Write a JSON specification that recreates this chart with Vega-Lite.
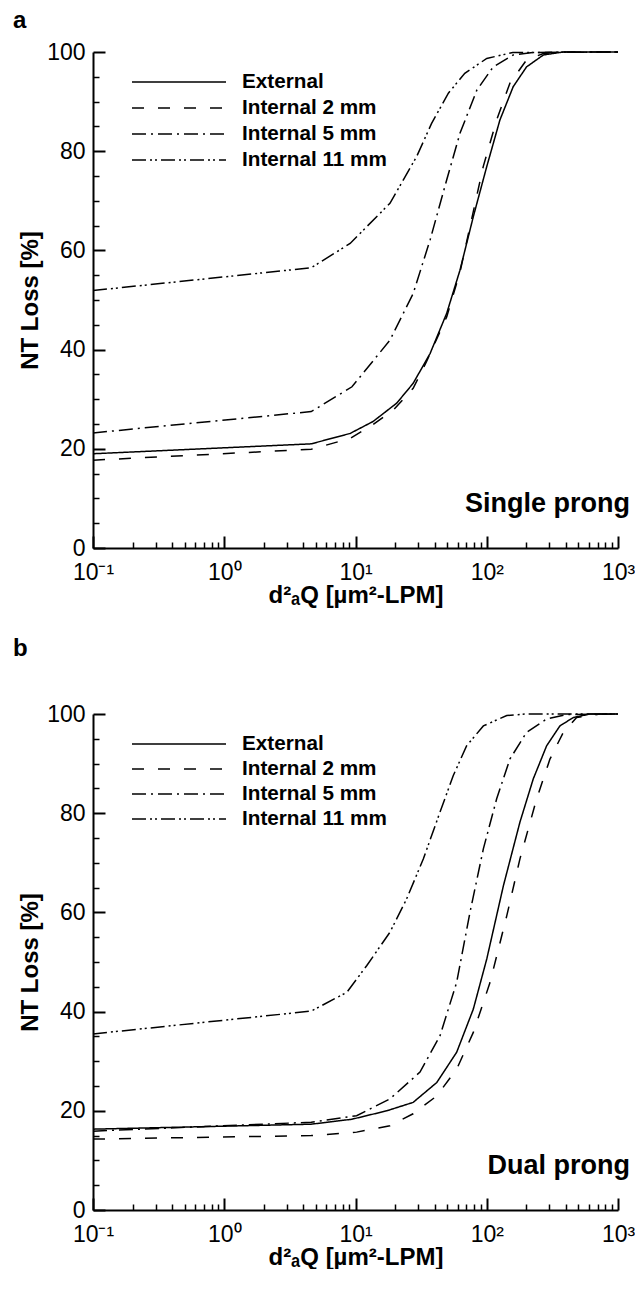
{
  "$schema": "https://vega.github.io/schema/vega-lite/v6.json",
  "padding": {"left": 13, "top": 9, "right": 0, "bottom": 0},
  "spacing": 30,
  "config": {
    "font": "Liberation Sans",
    "view": {"stroke": null},
    "axis": {
      "grid": false,
      "domainColor": "black",
      "domainWidth": 2,
      "tickColor": "black",
      "labelColor": "black",
      "labelFontSize": 23,
      "labelFont": "Liberation Sans",
      "titleFont": "Liberation Sans",
      "titleFontSize": 24,
      "titleFontWeight": "bold",
      "titleColor": "black",
      "labelOverlap": false,
      "labelFlush": false,
      "labelBound": false
    },
    "legend": {
      "labelFont": "Liberation Sans",
      "labelFontSize": 20.7,
      "labelFontWeight": "bold",
      "labelColor": "black"
    },
    "title": {"font": "Liberation Sans", "color": "black"}
  },
  "datasets": {
    "a": [
      {"s": "External", "x": 0.1, "y": 19.0}, {"s": "External", "x": 4.6, "y": 21.0}, {"s": "External", "x": 9.1, "y": 23.1}, {"s": "External", "x": 13.6, "y": 25.5}, {"s": "External", "x": 20.6, "y": 29.2}, {"s": "External", "x": 27.5, "y": 33.2}, {"s": "External", "x": 37, "y": 39.2}, {"s": "External", "x": 49.5, "y": 47.3}, {"s": "External", "x": 62.5, "y": 56.0}, {"s": "External", "x": 79, "y": 66.8}, {"s": "External", "x": 100, "y": 76.9}, {"s": "External", "x": 126, "y": 86.3}, {"s": "External", "x": 159, "y": 93.0}, {"s": "External", "x": 201, "y": 97.0}, {"s": "External", "x": 270, "y": 99.4}, {"s": "External", "x": 380, "y": 100}, {"s": "External", "x": 1000, "y": 100},
      {"s": "Internal 2 mm", "x": 0.1, "y": 17.7}, {"s": "Internal 2 mm", "x": 4.6, "y": 19.9}, {"s": "Internal 2 mm", "x": 9.1, "y": 22.1}, {"s": "Internal 2 mm", "x": 13.6, "y": 24.9}, {"s": "Internal 2 mm", "x": 19.4, "y": 27.8}, {"s": "Internal 2 mm", "x": 27.5, "y": 32.2}, {"s": "Internal 2 mm", "x": 34.8, "y": 37.6}, {"s": "Internal 2 mm", "x": 49.5, "y": 46.6}, {"s": "Internal 2 mm", "x": 62.5, "y": 55.6}, {"s": "Internal 2 mm", "x": 77, "y": 66.5}, {"s": "Internal 2 mm", "x": 94, "y": 76.9}, {"s": "Internal 2 mm", "x": 119, "y": 86.3}, {"s": "Internal 2 mm", "x": 150, "y": 93.7}, {"s": "Internal 2 mm", "x": 201, "y": 98.4}, {"s": "Internal 2 mm", "x": 270, "y": 99.7}, {"s": "Internal 2 mm", "x": 380, "y": 100}, {"s": "Internal 2 mm", "x": 1000, "y": 100},
      {"s": "Internal 5 mm", "x": 0.1, "y": 23.2}, {"s": "Internal 5 mm", "x": 4.6, "y": 27.5}, {"s": "Internal 5 mm", "x": 9.4, "y": 32.5}, {"s": "Internal 5 mm", "x": 18.3, "y": 41.9}, {"s": "Internal 5 mm", "x": 27.5, "y": 51.3}, {"s": "Internal 5 mm", "x": 37, "y": 62.1}, {"s": "Internal 5 mm", "x": 49.5, "y": 74.2}, {"s": "Internal 5 mm", "x": 62.5, "y": 83.6}, {"s": "Internal 5 mm", "x": 84, "y": 92.3}, {"s": "Internal 5 mm", "x": 112, "y": 97.0}, {"s": "Internal 5 mm", "x": 159, "y": 99.4}, {"s": "Internal 5 mm", "x": 224, "y": 99.9}, {"s": "Internal 5 mm", "x": 1000, "y": 100},
      {"s": "Internal 11 mm", "x": 0.1, "y": 51.9}, {"s": "Internal 11 mm", "x": 4.6, "y": 56.5}, {"s": "Internal 11 mm", "x": 9.1, "y": 61.4}, {"s": "Internal 11 mm", "x": 18.3, "y": 69.5}, {"s": "Internal 11 mm", "x": 29.2, "y": 78.9}, {"s": "Internal 11 mm", "x": 38, "y": 85.6}, {"s": "Internal 11 mm", "x": 51, "y": 91.7}, {"s": "Internal 11 mm", "x": 68, "y": 95.7}, {"s": "Internal 11 mm", "x": 100, "y": 98.7}, {"s": "Internal 11 mm", "x": 158, "y": 99.9}, {"s": "Internal 11 mm", "x": 1000, "y": 100}
    ],
    "b": [
      {"s": "External", "x": 0.1, "y": 16.3}, {"s": "External", "x": 4.6, "y": 17.3}, {"s": "External", "x": 9.4, "y": 18.3}, {"s": "External", "x": 17.3, "y": 20.0}, {"s": "External", "x": 27.5, "y": 21.7}, {"s": "External", "x": 41.6, "y": 25.7}, {"s": "External", "x": 59, "y": 31.8}, {"s": "External", "x": 79, "y": 40.5}, {"s": "External", "x": 100, "y": 50.6}, {"s": "External", "x": 134, "y": 65.4}, {"s": "External", "x": 179, "y": 78.2}, {"s": "External", "x": 226, "y": 86.9}, {"s": "External", "x": 286, "y": 93.6}, {"s": "External", "x": 361, "y": 97.6}, {"s": "External", "x": 457, "y": 99.3}, {"s": "External", "x": 612, "y": 100}, {"s": "External", "x": 1000, "y": 100},
      {"s": "Internal 2 mm", "x": 0.1, "y": 14.3}, {"s": "Internal 2 mm", "x": 4.6, "y": 15.0}, {"s": "Internal 2 mm", "x": 10.2, "y": 15.7}, {"s": "Internal 2 mm", "x": 18.3, "y": 17.0}, {"s": "Internal 2 mm", "x": 27.5, "y": 19.4}, {"s": "Internal 2 mm", "x": 41.6, "y": 23.0}, {"s": "Internal 2 mm", "x": 59, "y": 28.4}, {"s": "Internal 2 mm", "x": 79, "y": 35.8}, {"s": "Internal 2 mm", "x": 106, "y": 45.9}, {"s": "Internal 2 mm", "x": 142, "y": 59.3}, {"s": "Internal 2 mm", "x": 179, "y": 70.8}, {"s": "Internal 2 mm", "x": 240, "y": 82.9}, {"s": "Internal 2 mm", "x": 303, "y": 90.9}, {"s": "Internal 2 mm", "x": 383, "y": 96.3}, {"s": "Internal 2 mm", "x": 484, "y": 99.3}, {"s": "Internal 2 mm", "x": 729, "y": 100}, {"s": "Internal 2 mm", "x": 1000, "y": 100},
      {"s": "Internal 5 mm", "x": 0.1, "y": 15.9}, {"s": "Internal 5 mm", "x": 4.6, "y": 17.7}, {"s": "Internal 5 mm", "x": 10.2, "y": 19.0}, {"s": "Internal 5 mm", "x": 18.3, "y": 22.4}, {"s": "Internal 5 mm", "x": 31, "y": 27.8}, {"s": "Internal 5 mm", "x": 44, "y": 35.1}, {"s": "Internal 5 mm", "x": 59, "y": 45.9}, {"s": "Internal 5 mm", "x": 74.5, "y": 60.0}, {"s": "Internal 5 mm", "x": 94.2, "y": 72.8}, {"s": "Internal 5 mm", "x": 119, "y": 82.9}, {"s": "Internal 5 mm", "x": 150, "y": 90.9}, {"s": "Internal 5 mm", "x": 201, "y": 96.3}, {"s": "Internal 5 mm", "x": 286, "y": 99.0}, {"s": "Internal 5 mm", "x": 406, "y": 99.9}, {"s": "Internal 5 mm", "x": 1000, "y": 100},
      {"s": "Internal 11 mm", "x": 0.1, "y": 35.5}, {"s": "Internal 11 mm", "x": 4.6, "y": 40.1}, {"s": "Internal 11 mm", "x": 8.6, "y": 43.9}, {"s": "Internal 11 mm", "x": 12.2, "y": 49.3}, {"s": "Internal 11 mm", "x": 18.3, "y": 56.0}, {"s": "Internal 11 mm", "x": 24.5, "y": 62.7}, {"s": "Internal 11 mm", "x": 32.9, "y": 70.8}, {"s": "Internal 11 mm", "x": 44, "y": 80.2}, {"s": "Internal 11 mm", "x": 55.6, "y": 87.6}, {"s": "Internal 11 mm", "x": 70.3, "y": 93.6}, {"s": "Internal 11 mm", "x": 94.2, "y": 97.6}, {"s": "Internal 11 mm", "x": 142, "y": 99.7}, {"s": "Internal 11 mm", "x": 200, "y": 100}, {"s": "Internal 11 mm", "x": 1000, "y": 100}
    ]
  },
  "vconcat": [
    {
      "width": 525,
      "height": 496,
      "title": {"text": "a", "anchor": "start", "frame": "group", "dx": -80, "offset": 8, "fontSize": 24, "fontWeight": "bold"},
      "resolve": {"axis": {"x": "independent", "y": "independent"}},
      "layer": [
        {
          "data": {"name": "a"},
          "mark": {"type": "line", "color": "black", "strokeWidth": 1.5},
          "encoding": {
            "x": {"field": "x", "type": "quantitative", "scale": {"type": "log", "domain": [0.1, 1000], "nice": false},
              "axis": {"orient": "bottom", "title": "d²ₐQ [µm²-LPM]", "values": [0.1, 1, 10, 100, 1000],
                "ticks": true, "tickSize": -12, "tickWidth": 2, "labelPadding": 25, "titlePadding": -1,
                "labelExpr": "datum.value < 0.5 ? '10⁻¹' : datum.value < 5 ? '10⁰' : datum.value < 50 ? '10¹' : datum.value < 500 ? '10²' : '10³'"}},
            "y": {"field": "y", "type": "quantitative", "scale": {"domain": [0, 100], "nice": false},
              "axis": {"orient": "left", "title": "NT Loss [%]", "values": [0, 20, 40, 60, 80, 100],
                "ticks": true, "tickSize": -12, "tickWidth": 2, "labelPadding": 20, "titlePadding": 4}},
            "strokeDash": {"field": "s", "type": "nominal",
              "scale": {"domain": ["External", "Internal 2 mm", "Internal 5 mm", "Internal 11 mm"], "range": [[1, 0], [12, 14], [14, 5, 2, 5], [14, 4, 2, 3, 2, 4]]},
              "legend": {"title": null, "orient": "none", "legendX": 38, "legendY": 20, "padding": 0, "symbolType": "stroke", "symbolSize": 8836, "symbolStrokeWidth": 1.5, "symbolStrokeColor": "black", "clipHeight": 20, "rowPadding": 5, "labelOffset": 15}}
          }
        },
        {
          "data": {"values": [{}]},
          "mark": {"type": "text", "text": "Single prong", "align": "right", "baseline": "alphabetic", "dx": 12, "fontSize": 27, "fontWeight": "bold", "color": "black"},
          "encoding": {
            "x": {"datum": 1000, "type": "quantitative",
              "axis": {"orient": "bottom", "title": null, "labels": false, "domain": false, "tickSize": -6, "tickWidth": 1.5,
                "values": [0.2,0.3,0.4,0.5,0.6,0.7,0.8,0.9,2,3,4,5,6,7,8,9,20,30,40,50,60,70,80,90,200,300,400,500,600,700,800,900]}},
            "y": {"datum": 7.3, "type": "quantitative",
              "axis": {"orient": "left", "title": null, "labels": false, "domain": false, "tickSize": -6, "tickWidth": 1.5,
                "values": [5,10,15,25,30,35,45,50,55,65,70,75,85,90,95]}}
          }
        }
      ]
    },
    {
      "width": 525,
      "height": 496,
      "title": {"text": "b", "anchor": "start", "frame": "group", "dx": -80, "offset": 42, "fontSize": 24, "fontWeight": "bold"},
      "resolve": {"axis": {"x": "independent", "y": "independent"}},
      "layer": [
        {
          "data": {"name": "b"},
          "mark": {"type": "line", "color": "black", "strokeWidth": 1.5},
          "encoding": {
            "x": {"field": "x", "type": "quantitative", "scale": {"type": "log", "domain": [0.1, 1000], "nice": false},
              "axis": {"orient": "bottom", "title": "d²ₐQ [µm²-LPM]", "values": [0.1, 1, 10, 100, 1000],
                "ticks": true, "tickSize": -12, "tickWidth": 2, "labelPadding": 25, "titlePadding": -1,
                "labelExpr": "datum.value < 0.5 ? '10⁻¹' : datum.value < 5 ? '10⁰' : datum.value < 50 ? '10¹' : datum.value < 500 ? '10²' : '10³'"}},
            "y": {"field": "y", "type": "quantitative", "scale": {"domain": [0, 100], "nice": false},
              "axis": {"orient": "left", "title": "NT Loss [%]", "values": [0, 20, 40, 60, 80, 100],
                "ticks": true, "tickSize": -12, "tickWidth": 2, "labelPadding": 20, "titlePadding": 4}},
            "strokeDash": {"field": "s", "type": "nominal",
              "scale": {"domain": ["External", "Internal 2 mm", "Internal 5 mm", "Internal 11 mm"], "range": [[1, 0], [12, 14], [14, 5, 2, 5], [14, 4, 2, 3, 2, 4]]},
              "legend": {"title": null, "orient": "none", "legendX": 38, "legendY": 20, "padding": 0, "symbolType": "stroke", "symbolSize": 8836, "symbolStrokeWidth": 1.5, "symbolStrokeColor": "black", "clipHeight": 20, "rowPadding": 4, "labelOffset": 15}}
          }
        },
        {
          "data": {"values": [{}]},
          "mark": {"type": "text", "text": "Dual prong", "align": "right", "baseline": "alphabetic", "dx": 12, "fontSize": 27, "fontWeight": "bold", "color": "black"},
          "encoding": {
            "x": {"datum": 1000, "type": "quantitative",
              "axis": {"orient": "bottom", "title": null, "labels": false, "domain": false, "tickSize": -6, "tickWidth": 1.5,
                "values": [0.2,0.3,0.4,0.5,0.6,0.7,0.8,0.9,2,3,4,5,6,7,8,9,20,30,40,50,60,70,80,90,200,300,400,500,600,700,800,900]}},
            "y": {"datum": 7.3, "type": "quantitative",
              "axis": {"orient": "left", "title": null, "labels": false, "domain": false, "tickSize": -6, "tickWidth": 1.5,
                "values": [5,10,15,25,30,35,45,50,55,65,70,75,85,90,95]}}
          }
        }
      ]
    }
  ],
  "resolve": {"scale": {"strokeDash": "independent"}, "legend": {"strokeDash": "independent"}}
}
